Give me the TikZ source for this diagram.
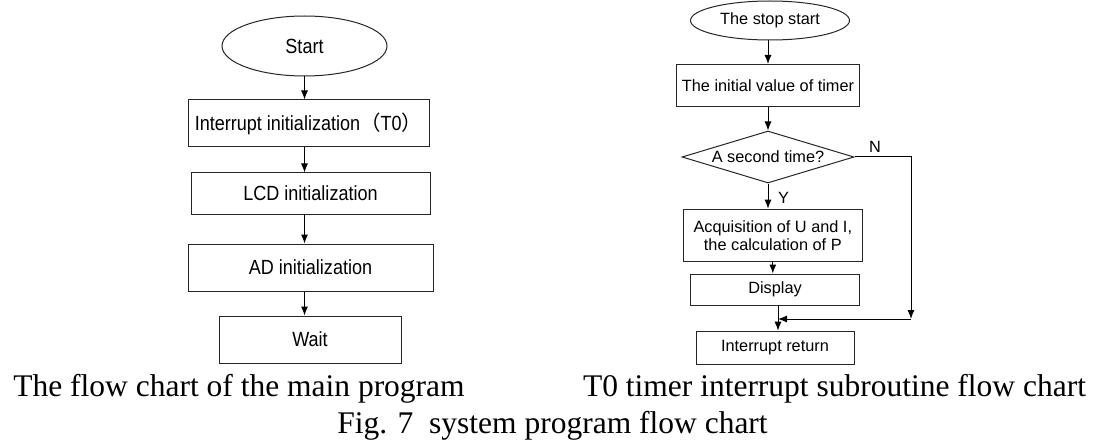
\documentclass[tikz,border=0pt]{standalone}
\usepackage{fontspec}
\setmainfont{Liberation Serif}
\newfontfamily\boxfont{Liberation Sans}[FakeStretch=0.88]
\newfontfamily\subfont{Liberation Sans}
\newfontfamily\cjkfont{Noto Sans CJK SC}
\usetikzlibrary{arrows.meta,shapes.geometric}
\begin{document}
\begin{tikzpicture}[x=1pt,y=-1pt,line width=1pt,
    >={Latex[length=9pt,width=7pt]},
    mainbox/.style={draw=black!85,rectangle,inner sep=0pt,font={\boxfont\fontsize{20.5}{24}\selectfont}},
    mainend/.style={mainbox,ellipse},
    subbox/.style={draw=black!85,rectangle,inner sep=0pt,align=center,font={\subfont\fontsize{16.3}{18}\selectfont}},
    subend/.style={subbox,ellipse},
    subtest/.style={subbox,diamond,aspect=3.3},
    branch/.style={inner sep=0pt,font={\subfont\fontsize{16.3}{18}\selectfont}},
    caption/.style={inner sep=0pt,anchor=base,font={\fontsize{31.5}{36}\selectfont}}]
\useasboundingbox (0,0) rectangle (1098,441);

\node[mainend,minimum width=165pt,minimum height=60pt] (start) at (304.5,46) {Start};
\node[mainbox,minimum width=241pt,minimum height=47pt] (intinit) at (308.5,123.5) {Interrupt initialization{\cjkfont （}T0{\cjkfont ）}};
\node[mainbox,minimum width=239pt,minimum height=41pt] (lcdinit) at (310.5,193.5) {LCD initialization};
\node[mainbox,minimum width=245pt,minimum height=47pt] (adinit) at (310.5,267.5) {AD initialization};
\node[mainbox,minimum width=182pt,minimum height=47pt] (wait) at (310,339.5) {Wait};

\draw[->] (start.south) to (intinit.north -| start.south);
\draw[->] (intinit.south -| start.south) to (lcdinit.north -| start.south);
\draw[->] (lcdinit.south -| start.south) to (adinit.north -| start.south);
\draw[->] (adinit.south -| start.south) to (wait.north -| start.south);

\node[subend,minimum width=159pt,minimum height=39pt] (stopstart) at (770,20.5) {The stop start};
\node[subbox,minimum width=182.5pt,minimum height=42pt] (timer) at (768,85.5) {The initial value of timer};
\node[subtest,minimum width=172pt,minimum height=52pt] (second) at (768,157) {A second time?};
\node[subbox,minimum width=179pt,minimum height=52pt] (acquire) at (772.8,235.2) {Acquisition of U and I,\\the calculation of P};
\node[subbox,minimum width=168.5pt,minimum height=31pt] (display) at (775,289.5) {Display};
\node[subbox,minimum width=158pt,minimum height=33pt] (intret) at (775,347.7) {Interrupt return};
\coordinate (nbend) at (911,319);
\coordinate (join) at (778,319);
\node[branch] (nlabel) at (875,147) {N};
\node[branch] (ylabel) at (783.5,198) {Y};

\draw[->] (stopstart.south -| timer) to (timer.north);
\draw[->] (timer.south) to (second.north);
\draw[->] (second.south) to (acquire.north -| second.south);
\draw[->] (acquire.south) to (display.north -| acquire.south);
\draw[->] (display.south -| join) to (intret.north -| join);
\draw[->] (second.east) -- (second.east -| nbend) -- (nbend);
\draw[->] (nbend) to (join);

\node[caption] (maincap) at (239,396) {The flow chart of the main program};
\node[caption] (subcap) at (834.5,396) {T0 timer interrupt subroutine flow chart};
\node[caption] (figcap) at (552.5,433) {Fig. 7\hspace{0.5em}system program flow chart};
\end{tikzpicture}
\end{document}
